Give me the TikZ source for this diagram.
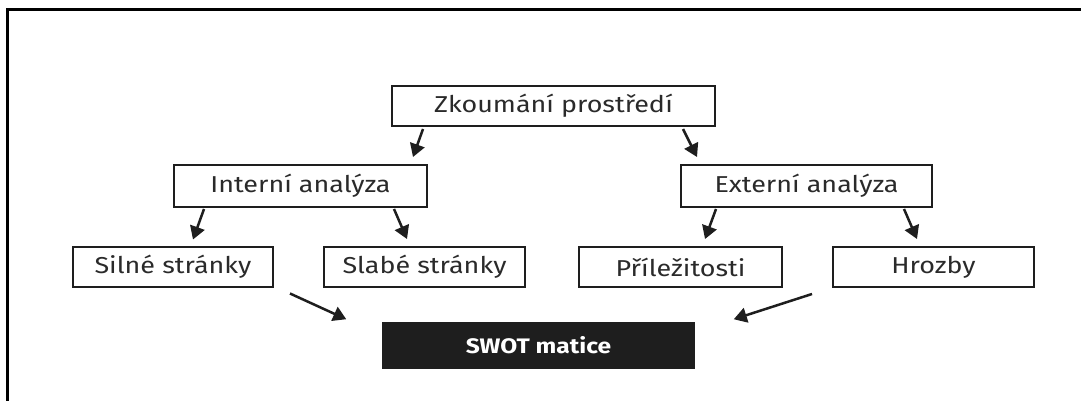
\documentclass[tikz,border=0pt]{standalone}
\usepackage{fontspec}
\setmainfont{Fira Sans}[FakeStretch=1.17]
\usetikzlibrary{arrows.meta,calc}
\definecolor{txt}{HTML}{2A2A2A}
\definecolor{ln}{HTML}{1E1E1E}
\begin{document}
\begin{tikzpicture}[x=1pt,y=-1pt,
  box/.style={draw=ln,line width=2pt,fill=white,minimum height=40pt,inner sep=0pt,
    font=\fontsize{23}{27}\selectfont,text=txt},
  blackbox/.style={draw=ln,line width=1.5pt,fill=ln,minimum height=45pt,inner sep=0pt,
    font=\fontsize{21}{25}\selectfont\bfseries,text=white},
  arr/.style={draw=ln,line width=2.5pt,-{Triangle[length=13pt,width=15pt]}},
  frame/.style={draw=black,line width=3pt}]
\useasboundingbox (0,0) rectangle (1081,401);
\draw[frame] (7,401) -- (7,9.5) -- (1081,9.5);
\node[box,minimum width=323pt,minimum height=40pt] (Z) at (553.5,106) {Zkoumání prostředí};
\node[box,minimum width=253pt,minimum height=42pt] (I) at (300.5,186) {Interní analýza};
\node[box,minimum width=251pt,minimum height=42pt] (E) at (806.5,186) {Externí analýza};
\node[box,minimum width=200pt] (S) at (173,266.5) {Silné stránky};
\node[box,minimum width=201pt] (W) at (424.5,267) {Slabé stránky};
\node[box,minimum width=203pt] (O) at (680.5,267) {Příležitosti};
\node[box,minimum width=201pt] (T) at (933.5,267) {Hrozby};
\node[blackbox,minimum width=311pt] (M) at (538.5,345.5) {SWOT matice};
\draw[arr] ($(Z.south west)+(32,2)$) -- ($(I.north east)+(-15,-7)$);
\draw[arr] ($(Z.south east)+(-33,2)$) -- ($(E.north west)+(17,-7)$);
\draw[arr] ($(I.south west)+(31,1)$) -- ($(S.north)+(20,-6)$);
\draw[arr] ($(I.south east)+(-34,1)$) -- ($(W.north)+(-17.5,-7)$);
\draw[arr] ($(E.south west)+(36,1)$) -- ($(O.north)+(24.5,-7)$);
\draw[arr] ($(E.south east)+(-29,1)$) -- ($(T.north)+(-16.5,-7)$);
\draw[arr] ($(S.south east)+(16,6)$) -- ($(M.north west)+(-36,-3)$);
\draw[arr] ($(T.south west)+(-20,6)$) -- ($(M.north east)+(39,-3)$);
\end{tikzpicture}
\end{document}
